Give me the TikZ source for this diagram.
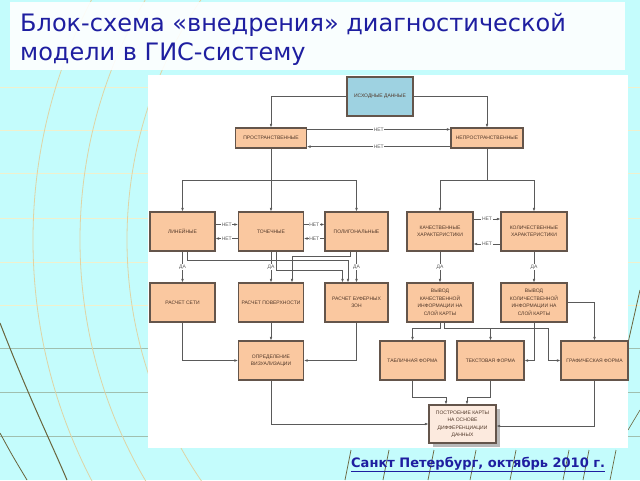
\documentclass[tikz,border=0pt]{standalone}
\usepackage{fontspec}
\newfontfamily\titlefont{DejaVu Sans}
\newfontfamily\boxfont{Liberation Sans}
\usetikzlibrary{arrows.meta,shadows}

\definecolor{bgcyan}{RGB}{196,252,252}
\definecolor{gridbeige}{RGB}{222,212,165}
\definecolor{gridpale}{RGB}{240,240,205}
\definecolor{gridolive}{RGB}{105,100,60}
\definecolor{boxfill}{RGB}{250,200,160}
\definecolor{srcfill}{RGB}{158,210,225}
\definecolor{mapfill}{RGB}{252,234,222}
\definecolor{boxline}{RGB}{100,85,75}
\definecolor{boxtext}{RGB}{80,55,40}
\definecolor{titleblue}{RGB}{30,30,160}
\definecolor{wireline}{RGB}{90,90,90}

\begin{document}
\begin{tikzpicture}[x=1pt, y=-1pt,
  blk/.style={draw=boxline, line width=1.2pt, fill=boxfill, minimum width=65pt, minimum height=39pt,
    inner sep=1pt, align=center, text=boxtext, font=\fontsize{5}{7.5}\selectfont\boxfont},
  lbl/.style={fill=white, inner sep=0.6pt, text=wireline, font=\fontsize{5}{6}\selectfont\boxfont},
  wire/.style={draw=wireline, line width=0.5pt, -{Latex[length=3.5pt,width=2.6pt]}}]
  \useasboundingbox (0,0) rectangle (640,480);

  % background
  \fill[bgcyan] (0,0) rectangle (640,480);
  \foreach \y in {87,130,173,218,262,305}
    \draw[gridpale, line width=0.7pt] (0,\y) -- (640,\y);
  \foreach \y in {348,392,436}
    \draw[gridolive!40!bgcyan, line width=0.6pt] (0,\y) -- (640,\y);
  \foreach \r in {427,474,521}
    \draw[gridbeige, line width=0.8pt] (554,240) circle[radius=\r];
  \draw[gridolive, line width=1pt] (0,323) .. controls (30,400) and (50,440) .. (67,480);
  \draw[gridolive, line width=0.8pt] (0,433) .. controls (12,455) .. (27,480);
  \foreach \x in {345,383,428,470,510,563,583,610}
    \draw[gridolive, line width=0.7pt] (\x,480) -- (\x+6,450);
  \draw[gridolive, line width=0.8pt] (628,343) -- (640,290);
  \draw[gridolive, line width=0.6pt] (628,430) -- (640,410);

  % title and panel
  \fill[white, opacity=0.9] (10,2) rectangle (625,70);
  \fill[white] (148,75) rectangle (628,448);
  \node[anchor=base west, inner sep=0, text=titleblue, font=\fontsize{24}{28}\selectfont\titlefont] (title1) at (20,31) {Блок-схема «внедрения» диагностической};
  \node[anchor=base west, inner sep=0, text=titleblue, font=\fontsize{24}{28}\selectfont\titlefont] (title2) at (20,60) {модели в ГИС-систему};
  \node[anchor=base west, inner sep=0, text=titleblue, font=\fontsize{13}{15}\selectfont\titlefont\bfseries] (foot) at (351,467) {\underline{Санкт Петербург, октябрь 2010 г.}};

  % boxes
  \node[blk, fill=srcfill, minimum width=66pt] (src) at (380,96.5) {ИСХОДНЫЕ ДАННЫЕ};
  \node[blk, minimum width=71pt, minimum height=20pt] (spat) at (271,138) {ПРОСТРАНСТВЕННЫЕ};
  \node[blk, minimum width=72pt, minimum height=20pt] (nspat) at (487,138) {НЕПРОСТРАНСТВЕННЫЕ};

  \node[blk] (lin) at (182.5,231.5) {ЛИНЕЙНЫЕ};
  \node[blk] (pnt) at (271,231.5) {ТОЧЕЧНЫЕ};
  \node[blk, minimum width=63pt] (poly) at (356.5,231.5) {ПОЛИГОНАЛЬНЫЕ};
  \node[blk, minimum width=66pt] (qual) at (440,231.5) {КАЧЕСТВЕННЫЕ\\ХАРАКТЕРИСТИКИ};
  \node[blk, minimum width=66pt] (quan) at (534,231.5) {КОЛИЧЕСТВЕННЫЕ\\ХАРАКТЕРИСТИКИ};

  \node[blk] (net) at (182.5,302.5) {РАСЧЕТ СЕТИ};
  \node[blk] (surf) at (271,302.5) {РАСЧЕТ ПОВЕРХНОСТИ};
  \node[blk, minimum width=63pt] (buf) at (356.5,302.5) {РАСЧЕТ БУФЕРНЫХ\\ЗОН};
  \node[blk, minimum width=66pt] (outq) at (440,302.5) {ВЫВОД\\КАЧЕСТВЕННОЙ\\ИНФОРМАЦИИ НА\\СЛОЙ КАРТЫ};
  \node[blk, minimum width=66pt] (outn) at (534,302.5) {ВЫВОД\\КОЛИЧЕСТВЕННОЙ\\ИНФОРМАЦИИ НА\\СЛОЙ КАРТЫ};

  \node[blk] (vis) at (271,360.5) {ОПРЕДЕЛЕНИЕ\\ВИЗУАЛИЗАЦИИ};
  \node[blk] (tab) at (412.5,360.5) {ТАБЛИЧНАЯ ФОРМА};
  \node[blk, minimum width=67pt] (txt) at (490.5,360.5) {ТЕКСТОВАЯ ФОРМА};
  \node[blk, minimum width=67pt] (gra) at (594.5,360.5) {ГРАФИЧЕСКАЯ ФОРМА};
  \node[blk, fill=mapfill, minimum width=67pt, minimum height=38pt,
    drop shadow={shadow xshift=4pt, shadow yshift=-4pt, fill=gray!55, opacity=1}] (map) at (462.5,424)
    {ПОСТРОЕНИЕ КАРТЫ\\НА ОСНОВЕ\\ДИФФЕРЕНЦИАЦИИ\\ДАННЫХ};

  % top level
  \draw[wire] (src.west) -| (spat.north);
  \draw[wire] (src.east) -| (nspat.north);
  \draw[wire] ([yshift=-2pt]spat.north east) -- node[lbl]{НЕТ} ([yshift=-2pt]nspat.north west);
  \draw[wire] ([yshift=2pt]nspat.south west) -- node[lbl]{НЕТ} ([yshift=2pt]spat.south east);

  % spatial branch
  \coordinate (busL) at (271,180);
  \draw[wire,-] (spat.south) -- (busL);
  \draw[wire,-] (lin.north |- busL) -- (poly.north |- busL);
  \draw[wire] (lin.north |- busL) -- (lin.north);
  \draw[wire] (busL) -- (pnt.north);
  \draw[wire] (poly.north |- busL) -- (poly.north);
  \draw[wire] ([yshift=7pt]lin.east) -- node[lbl]{НЕТ} ([yshift=7pt]pnt.west);
  \draw[wire] ([yshift=-7pt]pnt.west) -- node[lbl]{НЕТ} ([yshift=-7pt]lin.east);
  \draw[wire] ([yshift=7pt]pnt.east) -- node[lbl]{НЕТ} ([yshift=7pt]poly.west);
  \draw[wire] ([yshift=-7pt]poly.west) -- node[lbl]{НЕТ} ([yshift=-7pt]pnt.east);

  \draw[wire] ([xshift=4.5pt]lin.south) -- ++(0,9) -| ([xshift=-8.5pt]buf.north);
  \draw[wire] ([xshift=5pt]pnt.south) -- ++(0,19) -| ([xshift=-14pt]buf.north);
  \draw[wire] ([xshift=-6.5pt]poly.south) -- ++(0,5) -| ([xshift=21pt]surf.north);
  \draw[wire] (lin) -- node[lbl]{ДА} (net);
  \draw[wire] (pnt) -- node[lbl]{ДА} (surf);
  \draw[wire] (poly) -- node[lbl]{ДА} (buf);

  \draw[wire] (net.south) |- (vis.west);
  \draw[wire] (surf) -- (vis);
  \draw[wire] (buf.south) |- (vis.east);
  \draw[wire] (vis.south) |- (map.west);

  % non-spatial branch
  \coordinate (busR) at (487,180);
  \draw[wire,-] (nspat.south) -- (busR);
  \draw[wire,-] (qual.north |- busR) -- (quan.north |- busR);
  \draw[wire] (qual.north |- busR) -- (qual.north);
  \draw[wire] (quan.north |- busR) -- (quan.north);
  \draw[wire] ([yshift=12.5pt]qual.east) -- node[lbl]{НЕТ} ([yshift=12.5pt]quan.west);
  \draw[wire] ([yshift=-12.5pt]quan.west) -- node[lbl]{НЕТ} ([yshift=-12.5pt]qual.east);
  \draw[wire] (qual) -- node[lbl]{ДА} (outq);
  \draw[wire] (quan) -- node[lbl]{ДА} (outn);

  \draw[wire] (outq.south) -- ++(0,5.5) -| (tab.north);
  \draw[wire] ([xshift=4pt]outq.south) -- ++(0,5.5) -| (txt.north);
  \draw[wire] ([xshift=4pt]outq.south) -- ++(0,5.5) -- ++(104,0) |- (gra.west);
  \draw[wire] (outn.south) |- (txt.east);
  \draw[wire] (outn.east) -| (gra.north);

  \draw[wire] (tab.south) -- ++(0,16.5) -| ([xshift=-16.5pt]map.north);
  \draw[wire] (txt.south) -- ++(0,16.5) -| ([xshift=4.5pt]map.north);
  \draw[wire] (gra.south) |- ([yshift=-2pt]map.east);
\end{tikzpicture}
\end{document}
